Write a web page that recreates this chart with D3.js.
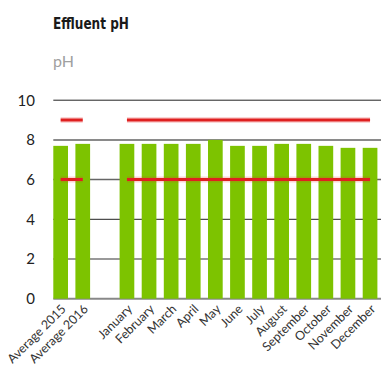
<!DOCTYPE html>
<html>
<head>
<meta charset="utf-8">
<script src="https://cdn.jsdelivr.net/npm/d3@7"></script>
<style>
  html, body { margin: 0; padding: 0; background: #fff; }
  svg { display: block; }
</style>
</head>
<body>
<svg id="chart" width="381" height="367"></svg>
<script>
// Categories on the x axis ("" is the spacer between the averages and the months)
const categories = ["Average 2015", "Average 2016", "", "January", "February", "March", "April",
  "May", "June", "July", "August", "September", "October", "November", "December"];
// Measured effluent pH
const phValues = [7.7, 7.8, null, 7.8, 7.8, 7.8, 7.8, 8.0, 7.7, 7.7, 7.8, 7.8, 7.7, 7.6, 7.6];
// Permitted range
const upperLimit = [9, 9, null, 9, 9, 9, 9, 9, 9, 9, 9, 9, 9, 9, 9];
const lowerLimit = [6, 6, null, 6, 6, 6, 6, 6, 6, 6, 6, 6, 6, 6, 6];
const yTicks = [0, 2, 4, 6, 8, 10];

const svg = d3.select("#chart");
const plotLeft = 53.3, plotRight = 377.4, plotTop = 100.2, plotBottom = 298.7;
const keys = categories.map((c, i) => i);

const x = d3.scaleBand().domain(keys).range([plotLeft, plotRight]).paddingInner(0.335).paddingOuter(0);
const y = d3.scaleLinear().domain([0, 10]).range([plotBottom, plotTop]);

// Title and unit
svg.append("text").attr("x", 53).attr("y", 29)
  .style("font-family", "'DejaVu Sans Condensed', 'DejaVu Sans'").style("font-weight", "bold")
  .style("font-size", "15.5px").attr("fill", "#1a1a1a")
  .attr("textLength", 76).attr("lengthAdjust", "spacingAndGlyphs").text("Effluent pH");
svg.append("text").attr("x", 53).attr("y", 67)
  .style("font-family", "Lato, sans-serif").style("font-size", "16px")
  .attr("fill", "#a0a0a0").text("pH");

// Horizontal grid lines
const gridStyle = { 10: ["#222", 1], 8: ["#8a8a8a", 2], 6: ["#666", 1.5], 4: ["#222", 1], 2: ["#777", 1.5], 0: ["#888", 2] };
svg.append("g").selectAll("line").data(yTicks).join("line")
  .attr("x1", plotLeft).attr("x2", 381)
  .attr("y1", d => y(d)).attr("y2", d => y(d))
  .attr("stroke", d => gridStyle[d][0]).attr("stroke-width", d => gridStyle[d][1]);

// Y axis labels
const yAxis = d3.axisLeft(y).tickValues(yTicks).tickSize(0).tickPadding(0);
const yg = svg.append("g").attr("transform", "translate(35,0)").call(yAxis);
yg.select(".domain").remove();
yg.selectAll("text").style("font-family", "Lato, sans-serif").style("font-size", "15px").attr("fill", "#222");

// Bars
svg.append("g").selectAll("rect")
  .data(keys.filter(i => phValues[i] != null)).join("rect")
  .attr("x", i => x(i)).attr("width", x.bandwidth())
  .attr("y", i => y(phValues[i])).attr("height", i => y(0) - y(phValues[i]))
  .attr("fill", "#7dc300");

// Limit lines
const line = d3.line()
  .defined(i => upperLimit[i] != null)
  .x(i => x(i) + x.bandwidth() / 2);
[upperLimit, lowerLimit].forEach(series => {
  const l = line.y(i => y(series[i]));
  svg.append("path").attr("d", l(keys)).attr("fill", "none")
    .attr("stroke", "#e52b2b").attr("stroke-opacity", 0.2).attr("stroke-width", 6);
  svg.append("path").attr("d", l(keys)).attr("fill", "none")
    .attr("stroke", "#df2020").attr("stroke-width", 3);
});

// X axis labels, rotated
const xAxis = d3.axisBottom(x).tickFormat(i => categories[i]).tickSize(0).tickPadding(0);
const xg = svg.append("g").attr("transform", `translate(0,${plotBottom})`).call(xAxis);
xg.select(".domain").remove();
xg.selectAll("text")
  .style("font-family", "Lato, sans-serif").style("font-size", "12.5px").attr("fill", "#333")
  .attr("text-anchor", "end").attr("dy", "0.35em")
  .attr("transform", "translate(3,8) rotate(-45)");
</script>
</body>
</html>
